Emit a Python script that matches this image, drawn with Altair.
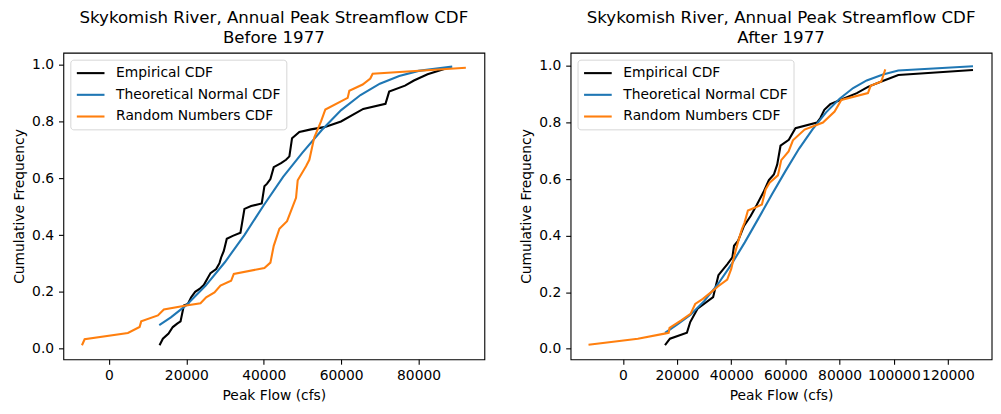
import altair as alt
import pandas as pd

SERIES = ["Empirical CDF", "Theoretical Normal CDF", "Random Numbers CDF"]
COLORS = ["#000000", "#1f77b4", "#ff7f0e"]

# ---- Before 1977 ----
before_emp_x = [13075, 13935, 15400, 16500, 17630, 18500, 19350, 20390, 21250, 22280,
                23400, 24500, 25380, 26240, 27700, 28560, 28990, 29680, 30450, 32000,
                33980, 35010, 36730, 39480, 40170, 40860, 41720, 42580, 44470, 45760,
                46620, 47310, 49200, 52200, 55650, 59960, 65700, 71450, 72400, 76500,
                78800, 82320, 87050]
before_emp_y = [0.012, 0.035, 0.053, 0.076, 0.088, 0.096, 0.152, 0.157, 0.181, 0.200,
                0.210, 0.224, 0.245, 0.266, 0.280, 0.301, 0.321, 0.344, 0.387, 0.397,
                0.408, 0.492, 0.502, 0.511, 0.572, 0.581, 0.597, 0.639, 0.653, 0.665,
                0.677, 0.741, 0.763, 0.772, 0.780, 0.800, 0.844, 0.862, 0.905, 0.926,
                0.944, 0.966, 0.986]
before_norm_x = [13000, 16000, 20000, 25000, 30000, 35000, 40000, 45000, 50000, 55000,
                 60000, 65000, 70000, 75000, 80000, 88700]
before_norm_y = [0.083, 0.110, 0.153, 0.222, 0.305, 0.400, 0.505, 0.605, 0.690, 0.770,
                 0.840, 0.893, 0.933, 0.960, 0.978, 0.993]
before_rand_x = [-6970, -6280, 4900, 7920, 8340, 12650, 14190, 19960, 23660, 25120,
                 27270, 28820, 31570, 32260, 40170, 41720, 42580, 44040, 46020, 48340,
                 48770, 50920, 51780, 52810, 53070, 54800, 55910, 61680, 62110, 65550,
                 67530, 68130, 92215]
before_rand_y = [0.012, 0.033, 0.055, 0.076, 0.096, 0.117, 0.138, 0.152, 0.160, 0.181,
                 0.198, 0.222, 0.239, 0.263, 0.284, 0.303, 0.362, 0.422, 0.449, 0.531,
                 0.593, 0.642, 0.665, 0.729, 0.744, 0.800, 0.842, 0.883, 0.908, 0.930,
                 0.951, 0.968, 0.989]

# ---- After 1977 ----
after_emp_x = [15550, 17390, 23640, 24860, 27560, 33310, 35270, 38580, 40420, 41030,
               42500, 44710, 47160, 49360, 52060, 53900, 55740, 56960, 58190, 61250,
               63700, 71660, 72890, 74360, 76560, 80240, 86360, 90650, 96150, 101660,
               129230]
after_emp_y = [0.012, 0.035, 0.056, 0.094, 0.141, 0.182, 0.260, 0.299, 0.323, 0.364,
               0.381, 0.434, 0.469, 0.507, 0.557, 0.596, 0.616, 0.651, 0.718, 0.739,
               0.780, 0.800, 0.816, 0.845, 0.865, 0.880, 0.904, 0.927, 0.948, 0.968,
               0.986]
after_norm_x = [15550, 20000, 25000, 30000, 35000, 40000, 45000, 50000, 55000, 60000,
                65000, 70000, 75000, 80000, 85000, 90000, 96000, 101660, 129230]
after_norm_y = [0.056, 0.085, 0.120, 0.168, 0.227, 0.297, 0.376, 0.460, 0.545, 0.628,
                0.707, 0.776, 0.836, 0.884, 0.922, 0.949, 0.970, 0.984, 0.999]
after_rand_x = [-12680, 5540, 15380, 16900, 17230, 21540, 24980, 26700, 29530, 32610,
                35080, 38520, 40000, 40980, 42460, 43940, 44920, 46150, 48860, 51320,
                52680, 54150, 57230, 58460, 61170, 62770, 67080, 73850, 78150, 80620,
                90460, 91450, 95380, 96860]
after_rand_y = [0.014, 0.035, 0.053, 0.056, 0.073, 0.100, 0.123, 0.158, 0.176, 0.200,
                0.220, 0.244, 0.282, 0.323, 0.376, 0.423, 0.446, 0.489, 0.499, 0.510,
                0.563, 0.587, 0.613, 0.667, 0.698, 0.737, 0.775, 0.800, 0.839, 0.880,
                0.904, 0.930, 0.945, 0.988]

Y_TICKS = [0.0, 0.2, 0.4, 0.6, 0.8, 1.0]
TITLE_LINE1 = "Skykomish River, Annual Peak Streamflow CDF"


def frame(emp, norm, rand):
    rows = []
    for name, (xs, ys) in zip(SERIES, [emp, norm, rand]):
        for i, (x, y) in enumerate(zip(xs, ys)):
            rows.append({"series": name, "idx": i, "flow": x, "freq": y})
    return pd.DataFrame(rows)


FONT = "DejaVu Sans"


def panel(df, subtitle, xdom, ydom, xticks):
    return alt.Chart(df).mark_line(strokeWidth=2.1).encode(
        x=alt.X("flow:Q",
                scale=alt.Scale(domain=xdom, nice=False, zero=False),
                axis=alt.Axis(values=xticks, format="d", title="Peak Flow (cfs)",
                              labelOverlap=False, labelFlush=False)),
        y=alt.Y("freq:Q",
                scale=alt.Scale(domain=ydom, nice=False, zero=False),
                axis=alt.Axis(values=Y_TICKS, format=".1f", title="Cumulative Frequency",
                              labelOverlap=False, labelFlush=False)),
        color=alt.Color("series:N",
                        scale=alt.Scale(domain=SERIES, range=COLORS),
                        legend=alt.Legend(title=None, orient="top-left", offset=7,
                                          padding=5.5, symbolType="M-1,0L3,0",
                                          symbolSize=193, symbolStrokeWidth=2.1,
                                          labelFontSize=13.9, labelFont=FONT,
                                          labelColor="black", labelOffset=24.5,
                                          labelLimit=0, rowPadding=6.8,
                                          strokeColor="#d6d6d6", fillColor="white",
                                          cornerRadius=3)),
        detail="series:N",
        order="idx:Q",
    ).properties(
        width=423, height=308,
        title=alt.TitleParams(text=[TITLE_LINE1, subtitle], fontSize=16.7,
                              fontWeight="normal", font=FONT, color="black",
                              lineHeight=20, offset=6),
    )


left = panel(frame((before_emp_x, before_emp_y), (before_norm_x, before_norm_y),
                   (before_rand_x, before_rand_y)),
             "Before 1977", [-11780, 97000], [-0.0375, 1.042],
             [0, 20000, 40000, 60000, 80000])
right = panel(frame((after_emp_x, after_emp_y), (after_norm_x, after_norm_y),
                    (after_rand_x, after_rand_y)),
              "After 1977", [-19300, 136100], [-0.0377, 1.047],
              [0, 20000, 40000, 60000, 80000, 100000, 120000])

chart = alt.hconcat(left, right, spacing=32.6).resolve_scale(
    color="independent"
).resolve_legend(
    color="independent"
).properties(
    padding={"left": 2.6, "top": 0, "right": 0, "bottom": 0}
).configure_view(
    stroke="black", strokeWidth=1.1
).configure_axis(
    grid=False, domain=False, tickColor="black", tickWidth=1.1, tickSize=4.9,
    labelFontSize=13.9, labelFont=FONT, labelColor="black", labelPadding=4.9,
    titleFontSize=13.9, titleFont=FONT, titleColor="black", titleFontWeight="normal",
    titlePadding=5.6
)

chart.save("out.html", embed_options={"renderer": "svg", "actions": False})
